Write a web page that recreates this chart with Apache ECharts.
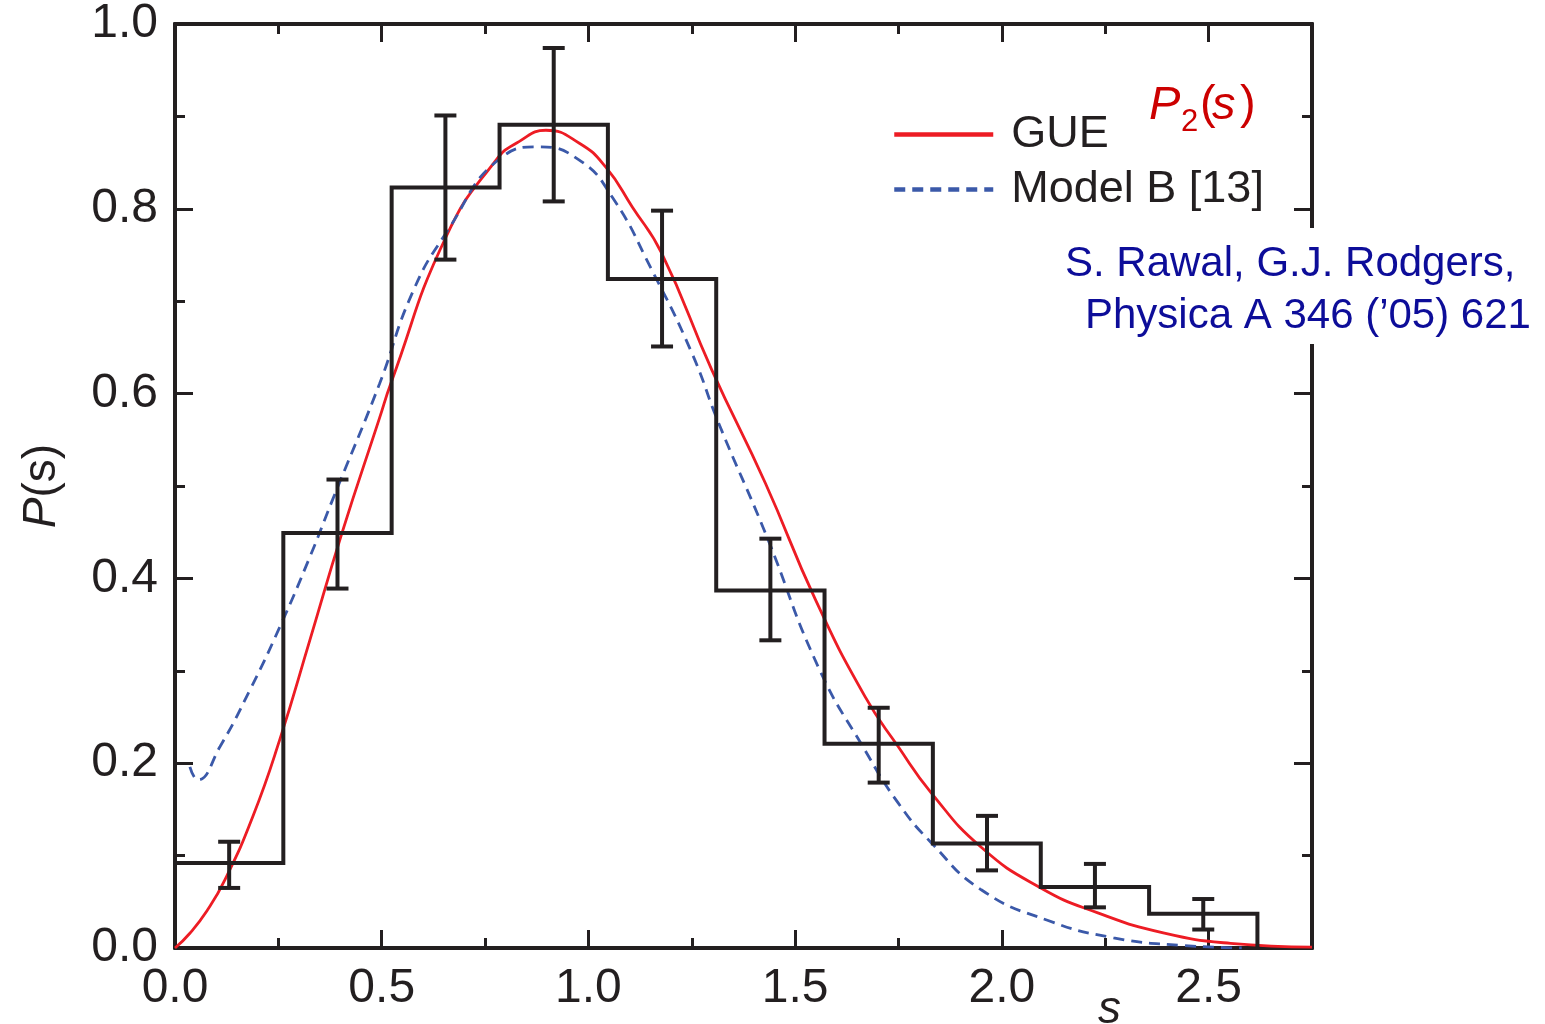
<!DOCTYPE html>
<html>
<head>
<meta charset="utf-8">
<script src="https://cdn.jsdelivr.net/npm/echarts@6/dist/echarts.min.js"></script>
<style>
  html, body { margin: 0; padding: 0; background: #fff; }
  #chart { width: 1545px; height: 1024px; }
</style>
</head>
<body>
<div id="chart"></div>
<script>
// histogram of level spacings (bin edges and heights)
const binEdges = [0, 0.262, 0.524, 0.785, 1.047, 1.309, 1.571, 1.833, 2.094, 2.356, 2.618];
const binHeights = [0.092, 0.449, 0.823, 0.891, 0.724, 0.387, 0.221, 0.113, 0.066, 0.037];

// error bars at bin centres
const errCenters = [0.131, 0.393, 0.654, 0.916, 1.178, 1.440, 1.702, 1.964, 2.225, 2.487];
const errLow = [0.065, 0.389, 0.745, 0.808, 0.651, 0.333, 0.179, 0.084, 0.044, 0.020];
const errHigh = [0.115, 0.507, 0.901, 0.974, 0.798, 0.443, 0.260, 0.143, 0.091, 0.053];

// GUE curve
const gueS = [0, 0.036, 0.077, 0.121, 0.188, 0.253, 0.326, 0.403, 0.495, 0.522, 0.656, 0.777, 0.833, 0.897,
  0.978, 1.042, 1.106, 1.177, 1.298, 1.428, 1.549, 1.669, 1.749, 1.829, 1.95, 2.094, 2.232, 2.393, 2.553, 2.75];
const gueP = [0, 0.016, 0.040, 0.074, 0.142, 0.225, 0.333, 0.448, 0.574, 0.611, 0.770, 0.853, 0.873, 0.885,
  0.871, 0.845, 0.802, 0.752, 0.626, 0.503, 0.377, 0.272, 0.218, 0.168, 0.109, 0.065, 0.038, 0.016, 0.005, 0.001];

// Model B curve
const modelS = [0.036, 0.055, 0.109, 0.181, 0.253, 0.326, 0.381, 0.495, 0.574, 0.656, 0.791, 0.88,
  0.977, 1.057, 1.153, 1.25, 1.315, 1.428, 1.556, 1.669, 1.749, 1.829, 1.95, 2.11, 2.27, 2.43, 2.58];
const modelP = [0.196, 0.182, 0.218, 0.279, 0.347, 0.423, 0.485, 0.611, 0.709, 0.774, 0.856, 0.867,
  0.853, 0.813, 0.734, 0.644, 0.568, 0.449, 0.304, 0.214, 0.157, 0.114, 0.063, 0.030, 0.011, 0.003, 0];

const xTickLabels = ['0.0', '0.5', '1.0', '1.5', '2.0', '2.5'];
const yTickLabels = ['0.0', '0.2', '0.4', '0.6', '0.8', '1.0'];

const ink = '#231f20';
const font = 'Liberation Sans, Arial, Helvetica, sans-serif';

let histData = [[binEdges[0], binHeights[0]]];
for (let i = 0; i < binHeights.length; i++) {
  histData.push([binEdges[i + 1], binHeights[i]]);
  if (i + 1 < binHeights.length) histData.push([binEdges[i + 1], binHeights[i + 1]]);
}
histData.push([binEdges[binEdges.length - 1], 0]);

const gueData = gueS.map((s, i) => [s, gueP[i]]);
const modelData = modelS.map((s, i) => [s, modelP[i]]);
const errData = errCenters.map((c, i) => [c, errLow[i], errHigh[i]]);

function xAxisDef(pos, step, len, labels) {
  return {
    type: 'value', position: pos, min: 0, max: 2.75, interval: step,
    axisLine: { show: true, onZero: false, lineStyle: { color: ink, width: 4 } },
    axisTick: { show: true, inside: true, length: len, lineStyle: { color: ink, width: 3 } },
    splitLine: { show: false },
    axisLabel: {
      show: labels, margin: 17, fontSize: 48, color: ink, fontFamily: font,
      formatter: v => {
        const k = Math.round(v / 0.5);
        return Math.abs(v - k * 0.5) < 1e-6 && k < xTickLabels.length ? xTickLabels[k] : '';
      }
    }
  };
}

function yAxisDef(pos, labels) {
  return {
    type: 'value', position: pos, min: 0, max: 1, interval: 0.2,
    axisLine: { show: true, onZero: false, lineStyle: { color: ink, width: 4 } },
    axisTick: { show: true, inside: true, length: 18, lineStyle: { color: ink, width: 3 } },
    minorTick: { show: true, splitNumber: 2, length: 10, lineStyle: { color: ink, width: 3 } },
    splitLine: { show: false },
    axisLabel: {
      show: labels, margin: 17, fontSize: 48, color: ink, fontFamily: font, padding: [6, 0, 0, 0],
      formatter: v => yTickLabels[Math.round(v / 0.2)]
    },
    name: labels ? '{i|P}(s)' : '',
    nameLocation: 'middle', nameRotate: 90, nameGap: 110,
    nameTextStyle: {
      fontSize: 46, color: ink, fontFamily: font,
      rich: { i: { fontSize: 46, fontStyle: 'italic', color: ink, fontFamily: font } }
    }
  };
}

const chart = echarts.init(document.getElementById('chart'));
chart.setOption({
  animation: false,
  backgroundColor: '#fff',
  grid: { left: 175, top: 24, width: 1137, height: 924, containLabel: false },
  xAxis: [
    xAxisDef('bottom', 0.25, 10, false),
    xAxisDef('bottom', 0.5, 18, true),
    xAxisDef('top', 0.25, 10, false),
    xAxisDef('top', 0.5, 18, false)
  ],
  yAxis: [yAxisDef('left', true), yAxisDef('right', false)],
  legend: {
    orient: 'vertical', left: 887, top: 107,
    itemWidth: 99, itemHeight: 14, itemGap: 10,
    data: ['GUE', 'Model B [13]'],
    itemStyle: { opacity: 0 },
    lineStyle: { width: 4.5 },
    textStyle: { fontSize: 45, lineHeight: 44, color: ink, fontFamily: font, padding: [0, 0, 0, 13] }
  },
  series: [
    {
      name: 'GUE', type: 'line', data: gueData, smooth: true, symbol: 'none',
      lineStyle: { color: '#ed1c24', width: 2.8 }, itemStyle: { color: '#ed1c24' }, z: 2
    },
    {
      name: 'Model B [13]', type: 'line', data: modelData, smooth: true, symbol: 'none',
      lineStyle: { color: '#3b59a9', width: 2.8, type: [11, 7] }, itemStyle: { color: '#3b59a9' }, z: 2
    },
    {
      name: 'histogram', type: 'line', data: histData, symbol: 'none',
      lineStyle: { color: ink, width: 4, join: 'miter' }, itemStyle: { color: ink }, z: 3
    },
    {
      name: 'errors', type: 'custom', data: errData, z: 4,
      encode: { x: 0, y: [1, 2] },
      renderItem: (params, api) => {
        const c = api.value(0);
        const lo = api.coord([c, api.value(1)]);
        const hi = api.coord([c, api.value(2)]);
        const st = { stroke: ink, lineWidth: 4 };
        return {
          type: 'group', children: [
            { type: 'line', shape: { x1: lo[0], y1: lo[1], x2: hi[0], y2: hi[1] }, style: st },
            { type: 'line', shape: { x1: lo[0] - 11, y1: lo[1], x2: lo[0] + 11, y2: lo[1] }, style: st },
            { type: 'line', shape: { x1: hi[0] - 11, y1: hi[1], x2: hi[0] + 11, y2: hi[1] }, style: st }
          ]
        };
      }
    }
  ],
  graphic: [
    { type: 'rect', z: 100, shape: { x: 1296, y: 228, width: 40, height: 116 }, style: { fill: '#fff' } },
    { type: 'text', z: 101, left: 1065, top: 243, style: { text: 'S. Rawal, G.J. Rodgers,', fontSize: 42, fontFamily: font, fill: '#0d0d99' } },
    { type: 'text', z: 101, left: 1085, top: 295, style: { text: 'Physica A 346 (\u201905) 621', fontSize: 42, fontFamily: font, fill: '#0d0d99' } },
    { type: 'text', z: 101, left: 1149, top: 82, style: { text: 'P', fontSize: 47, fontStyle: 'italic', fontFamily: font, fill: '#cc0000' } },
    { type: 'text', z: 101, left: 1181, top: 107, style: { text: '2', fontSize: 31, fontFamily: font, fill: '#cc0000' } },
    { type: 'text', z: 101, left: 1200, top: 82, style: { text: '(', fontSize: 47, fontFamily: font, fill: '#cc0000' } },
    { type: 'text', z: 101, left: 1212, top: 82, style: { text: 's', fontSize: 47, fontStyle: 'italic', fontFamily: font, fill: '#cc0000' } },
    { type: 'text', z: 101, left: 1240, top: 82, style: { text: ')', fontSize: 47, fontFamily: font, fill: '#cc0000' } },
    { type: 'text', z: 101, left: 1098, top: 987, style: { text: 's', fontSize: 46, fontStyle: 'italic', fontFamily: font, fill: ink } }
  ]
});
</script>
</body>
</html>
